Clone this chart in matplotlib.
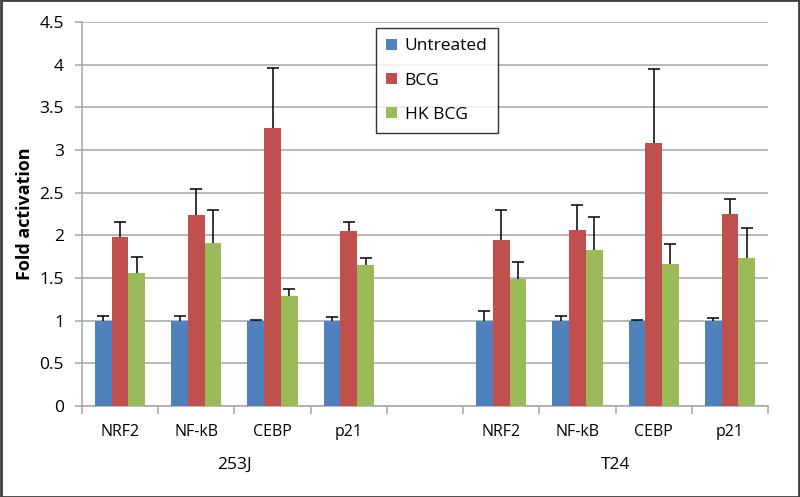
import numpy as np
import matplotlib
matplotlib.use('Agg')
import matplotlib.pyplot as plt
from matplotlib.patches import Rectangle, Patch
from matplotlib.transforms import blended_transform_factory

plt.rcParams['font.family'] = ['Open Sans', 'DejaVu Sans']

# 9 slots: 4 genes for 253J, one empty slot, 4 genes for T24
categories = ['NRF2', 'NF-kB', 'CEBP', 'p21', '', 'NRF2', 'NF-kB', 'CEBP', 'p21']
groups = ['253J', 'T24']
series = ['Untreated', 'BCG', 'HK BCG']

untreated = [1.0, 1.0, 1.0, 1.0, np.nan, 1.0, 1.0, 1.0, 1.0]
bcg = [1.98, 2.24, 3.26, 2.05, np.nan, 1.94, 2.06, 3.08, 2.25]
hk_bcg = [1.56, 1.91, 1.29, 1.65, np.nan, 1.49, 1.83, 1.66, 1.73]

untreated_err = [0.05, 0.06, 0.005, 0.04, 0, 0.11, 0.06, 0.01, 0.03]
bcg_err = [0.18, 0.30, 0.70, 0.11, 0, 0.36, 0.29, 0.87, 0.18]
hk_bcg_err = [0.19, 0.39, 0.08, 0.09, 0, 0.20, 0.38, 0.24, 0.36]

colors = ['#4F81BD', '#C0504D', '#9BBB59']

fig = plt.figure(figsize=(8, 4.97), dpi=100)
ax = fig.add_axes([82 / 800, 1 - 406 / 497, (768 - 82) / 800, (406 - 22) / 497])

x = np.arange(len(categories))
w = 0.22
for i, (vals, errs) in enumerate([(untreated, untreated_err), (bcg, bcg_err), (hk_bcg, hk_bcg_err)]):
    vals = np.array(vals)
    errs = np.array(errs)
    ax.bar(x + (i - 1) * w, np.nan_to_num(vals), w, color=colors[i], zorder=3)
    ok = ~np.isnan(vals)
    eb = ax.errorbar(x[ok] + (i - 1) * w, vals[ok], yerr=[np.zeros(ok.sum()), errs[ok]],
                     fmt='none', ecolor='black', elinewidth=1.1, capsize=4, capthick=1.1, zorder=4)
    # only the upper cap, like Excel "plus" error bars
    eb.lines[1][0].set_visible(False)

ax.set_xlim(-0.5, len(categories) - 0.5)
ax.set_ylim(0, 4.5)
ax.set_yticks(np.arange(0, 4.51, 0.5))
ax.set_yticklabels(['0', '0.5', '1', '1.5', '2', '2.5', '3', '3.5', '4', '4.5'])
ax.yaxis.grid(True, color='#a6a6a6', linewidth=1.1, zorder=0)
ax.set_axisbelow(True)

ax.set_xticks(np.arange(-0.5, len(categories), 1.0))
ax.set_xticklabels([])
ax.set_xticks(x, minor=True)
ax.set_xticklabels(categories, minor=True)
ax.tick_params(axis='x', which='major', length=6, color='#a6a6a6', width=1.1)
ax.tick_params(axis='x', which='minor', length=0, pad=13, labelsize=11.5)
ax.tick_params(axis='y', length=5, color='#a6a6a6', width=1.1, labelsize=12.5, pad=8)

for s in ['top', 'right']:
    ax.spines[s].set_visible(False)
for s in ['left', 'bottom']:
    ax.spines[s].set_color('#a6a6a6')
    ax.spines[s].set_linewidth(1.1)

ax.set_ylabel('Fold activation', fontsize=13, fontweight='bold', labelpad=4)

trans = blended_transform_factory(ax.transData, fig.transFigure)
ax.text(1.5, 1 - 465 / 497, groups[0], transform=trans, ha='center', va='center', fontsize=12.5)
ax.text(6.5, 1 - 465 / 497, groups[1], transform=trans, ha='center', va='center', fontsize=12.5)

handles = [Patch(facecolor=c, edgecolor='none') for c in colors]
leg = fig.legend(handles, series, loc='upper left', bbox_to_anchor=(376 / 800, 1 - 28 / 497),
                 frameon=True, fancybox=False, edgecolor='black', fontsize=12.5,
                 handlelength=0.6, handleheight=0.6, labelspacing=1.05,
                 borderpad=0.6, handletextpad=0.45, borderaxespad=0)
leg.get_frame().set_linewidth(1.0)

fig.patches.append(Rectangle((0.001, 0.001), 0.998, 0.998, transform=fig.transFigure,
                             fill=False, edgecolor='#404040', linewidth=2))

fig.savefig('out.png', dpi=100)
